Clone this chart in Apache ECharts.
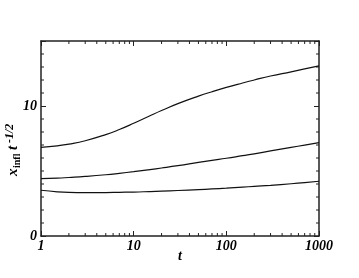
<!DOCTYPE html>
<html>
<head>
<meta charset="utf-8">
<script src="https://cdn.jsdelivr.net/npm/echarts@6/dist/echarts.min.js"></script>
<style>html,body{margin:0;padding:0;background:#fff}#c{width:359px;height:278px}</style>
</head>
<body>
<div id="c"></div>
<script>
var tValues = [1, 1.5, 2, 3, 5, 7, 10, 15, 20, 30, 50, 70, 100, 150, 200, 300, 500, 700, 1000];
var upperCurve = [6.82, 6.94, 7.07, 7.33, 7.80, 8.19, 8.67, 9.25, 9.65, 10.18, 10.76, 11.10, 11.43, 11.77, 12.00, 12.31, 12.63, 12.85, 13.08];
var middleCurve = [4.42, 4.45, 4.50, 4.58, 4.71, 4.82, 4.95, 5.11, 5.23, 5.41, 5.66, 5.82, 5.98, 6.18, 6.32, 6.55, 6.82, 6.99, 7.18];
var lowerCurve = [3.52, 3.40, 3.35, 3.33, 3.34, 3.36, 3.38, 3.42, 3.45, 3.50, 3.57, 3.62, 3.68, 3.76, 3.82, 3.90, 4.02, 4.11, 4.21];
var xMinorTicks = [2, 3, 4, 5, 6, 7, 8, 9, 20, 30, 40, 50, 60, 70, 80, 90, 200, 300, 400, 500, 600, 700, 800, 900];
var yMinorTicks = [1, 2, 3, 4, 5, 6, 7, 8, 9, 11, 12, 13, 14];
var xTickLabels = ['1', '10', '100', '1000'];
var yTickLabels = ['0', '10'];

function pairs(ys) { return tValues.map(function (t, i) { return [t, ys[i]]; }); }

var FONT = 'Liberation Serif';
var frameColor = '#222';
var lblStyle = { fontFamily: FONT, fontWeight: 'bold', fontStyle: 'italic', fontSize: 14, color: '#000' };

var chart = echarts.init(document.getElementById('c'), null, { renderer: 'canvas' });

var minorData = [];
xMinorTicks.forEach(function (v) { minorData.push([v, 0, 0]); minorData.push([v, 15, 1]); });
yMinorTicks.forEach(function (v) { minorData.push([1, v, 2]); minorData.push([1000, v, 3]); });

function frameLine() { return { show: true, onZero: false, lineStyle: { color: frameColor, width: 1.5 } }; }
function majorTick() { return { show: true, inside: true, length: 5, lineStyle: { color: frameColor } }; }

chart.setOption({
  animation: false,
  backgroundColor: '#fff',
  grid: { left: 41, right: 40, top: 41, bottom: 42 },
  xAxis: [{
    type: 'log', logBase: 10, min: 1, max: 1000, position: 'bottom',
    name: 't', nameLocation: 'middle', nameGap: 13, nameMoveOverlap: false,
    nameTextStyle: lblStyle,
    axisLine: frameLine(),
    axisTick: majorTick(),
    axisLabel: Object.assign({ margin: 3, formatter: function (v) { var i = Math.round(Math.log10(v)); return xTickLabels[i] || ''; } }, lblStyle),
    splitLine: { show: false }
  }, {
    type: 'log', logBase: 10, min: 1, max: 1000, position: 'top',
    axisLine: frameLine(),
    axisTick: majorTick(),
    axisLabel: { show: false }, splitLine: { show: false }
  }],
  yAxis: [{
    type: 'value', min: 0, max: 15, interval: 10, position: 'left',
    axisLine: frameLine(),
    axisTick: majorTick(),
    axisLabel: Object.assign({ margin: 4, formatter: function (v) { return v % 10 === 0 ? yTickLabels[v / 10] : ''; } }, lblStyle),
    splitLine: { show: false }
  }, {
    type: 'value', min: 0, max: 15, interval: 10, position: 'right',
    axisLine: frameLine(),
    axisTick: majorTick(),
    axisLabel: { show: false }, splitLine: { show: false }
  }],
  graphic: [{
    type: 'group', x: 13, y: 176, rotation: Math.PI / 2,
    children: [
      { type: 'text', x: 0, y: 0, style: { text: 'x', font: 'italic bold 15px ' + FONT, fill: '#000', textVerticalAlign: 'middle' } },
      { type: 'text', x: 8, y: 4, style: { text: 'infl', font: 'bold 10px ' + FONT, fill: '#000', textVerticalAlign: 'middle' } },
      { type: 'text', x: 26, y: 0, style: { text: 't', font: 'italic bold 15px ' + FONT, fill: '#000', textVerticalAlign: 'middle' } },
      { type: 'text', x: 33, y: -3, style: { text: '-1/2', font: 'italic bold 12px ' + FONT, fill: '#000', textVerticalAlign: 'middle' } }
    ]
  }],
  series: [
    { type: 'line', data: pairs(upperCurve), smooth: true, showSymbol: false, lineStyle: { color: '#111', width: 1.2 } },
    { type: 'line', data: pairs(middleCurve), smooth: true, showSymbol: false, lineStyle: { color: '#111', width: 1.2 } },
    { type: 'line', data: pairs(lowerCurve), smooth: true, showSymbol: false, lineStyle: { color: '#111', width: 1.2 } },
    {
      type: 'custom', data: minorData, silent: true, clip: false,
      renderItem: function (params, api) {
        var p = api.coord([api.value(0), api.value(1)]);
        var side = api.value(2), L = 3, d;
        if (side === 0) d = [0, -L]; else if (side === 1) d = [0, L]; else if (side === 2) d = [L, 0]; else d = [-L, 0];
        return { type: 'line', shape: { x1: p[0], y1: p[1], x2: p[0] + d[0], y2: p[1] + d[1] }, style: { stroke: frameColor, lineWidth: 1 } };
      }
    }
  ]
});
</script>
</body>
</html>
